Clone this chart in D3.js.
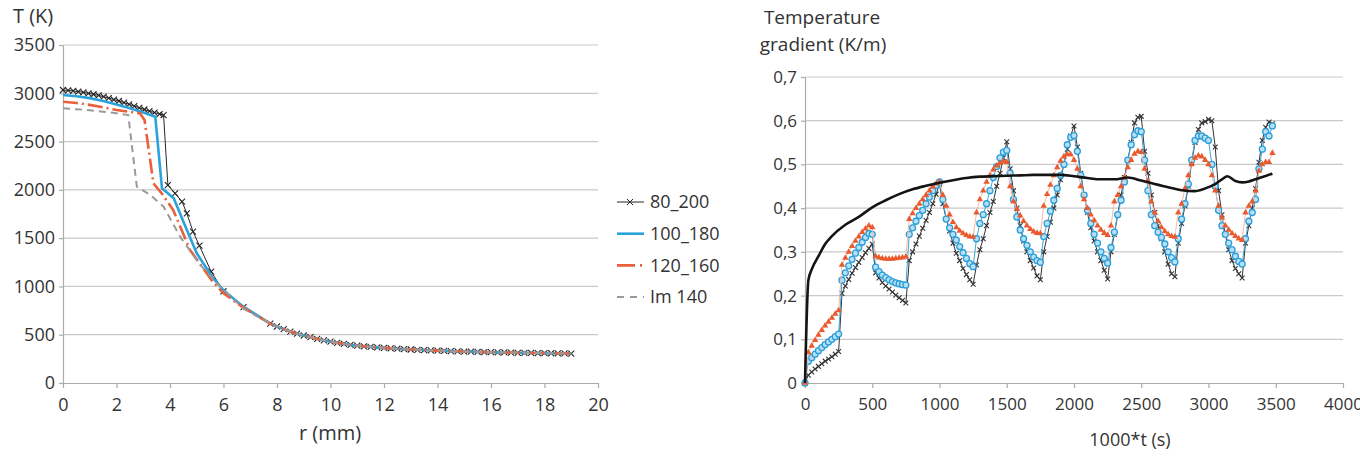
<!DOCTYPE html>
<html>
<head>
<meta charset="utf-8">
<script src="https://cdn.jsdelivr.net/npm/d3@7"></script>
<style>
    body { margin: 0; background: #fff; }
    text { font-family: "Open Sans", sans-serif; fill: #333; }
</style>
</head>
<body>
<svg id="chart" width="1360" height="465"></svg>
<script>
// ---------- left chart: temperature profile T(r) ----------
const rTicks = [0, 2, 4, 6, 8, 10, 12, 14, 16, 18, 20];
const tempTicks = [0, 500, 1000, 1500, 2000, 2500, 3000, 3500];
const profileNames = ['80_200', '100_180', '120_160', 'Im 140'];

// shared far-field tail (all cases converge here)
const rTail = [7.75, 8, 8.25, 8.5, 8.75, 9, 9.25, 9.5, 9.75, 10, 10.25, 10.5, 10.75, 11, 11.25, 11.5, 11.75, 12,
    12.25, 12.5, 12.75, 13, 13.25, 13.5, 13.75, 14, 14.25, 14.5, 14.75, 15, 15.25, 15.5, 15.75, 16, 16.25, 16.5,
    16.75, 17, 17.25, 17.5, 17.75, 18, 18.25, 18.5, 18.75, 19];
const tTail = [615, 585, 558, 533, 511, 492, 474, 458, 442, 428, 416, 405, 395, 387, 380, 374, 369, 364,
    359, 355, 351, 347, 344, 341, 338, 335, 333, 330, 328, 326, 324, 322, 320, 319, 317, 316,
    315, 313, 312, 311, 310, 309, 308, 307, 306, 305];

const r80 = [0, 0.19, 0.38, 0.57, 0.76, 0.95, 1.14, 1.33, 1.52, 1.71, 1.9, 2.09, 2.28, 2.47, 2.66, 2.85, 3.04, 3.23,
    3.42, 3.61, 3.76, 3.92, 4.19, 4.45, 4.63, 4.86, 5.1, 5.54, 6.0, 6.75];
const t80 = [3034, 3030, 3025, 3018, 3010, 3000, 2990, 2978, 2965, 2950, 2935, 2920, 2903, 2886, 2868, 2850, 2832, 2815,
    2800, 2785, 2775, 2050, 1964, 1877, 1757, 1567, 1422, 1153, 950, 785];

const r100 = [0, 0.5, 1, 1.5, 2, 2.5, 3, 3.45, 3.7, 4.14, 4.63, 5.0, 5.57, 6.0, 6.74];
const t100 = [2982, 2970, 2950, 2920, 2885, 2845, 2800, 2758, 2016, 1912, 1584, 1343, 1100, 960, 790];

const r120 = [0, 0.5, 1, 1.5, 2, 2.5, 2.88, 3.05, 3.38, 3.7, 4.12, 4.75, 5.6, 6.0, 6.74];
const t120 = [2913, 2900, 2880, 2855, 2827, 2808, 2793, 2720, 2068, 1960, 1791, 1377, 1049, 930, 780];

const r140 = [0, 0.5, 1, 1.5, 2, 2.44, 2.6, 2.76, 3.26, 3.76, 4.38, 5.13, 5.76, 6.74];
const t140 = [2844, 2835, 2825, 2810, 2793, 2775, 2400, 2033, 1947, 1826, 1515, 1222, 1032, 770];

// ---------- right chart: temperature gradient vs time ----------
const timeTicks = [0, 500, 1000, 1500, 2000, 2500, 3000, 3500, 4000];
const gradTicks = [0, 0.1, 0.2, 0.3, 0.4, 0.5, 0.6, 0.7];
const sampleTimes = d3.range(0, 3500, 25);   // one sample every 25 (1000*t)

const grad80 = [
    0, .018, .025, .032, .038, .044, .05, .055, .06, .066,
    .072, .205, .222, .237, .251, .264, .276, .287, .298, .308,
    .318, .252, .24, .23, .222, .215, .208, .201, .195, .189,
    .183, .28, .3, .318, .336, .354, .372, .39, .41, .432,
    .455, .41, .375, .348, .32, .297, .28, .262, .248, .236,
    .226, .27, .305, .33, .36, .39, .415, .45, .48, .515,
    .552, .49, .44, .4, .36, .325, .3, .28, .263, .245,
    .236, .3, .335, .368, .4, .43, .465, .5, .535, .565,
    .588, .54, .48, .43, .39, .355, .325, .3, .28, .258,
    .238, .3, .34, .385, .43, .47, .51, .55, .595, .608,
    .61, .53, .48, .43, .39, .36, .33, .3, .272, .25,
    .243, .32, .365, .405, .45, .505, .55, .58, .595, .598,
    .603, .6, .54, .44, .385, .34, .305, .28, .262, .25,
    .24, .32, .36, .4, .445, .505, .555, .585, .597, .593
];
const grad100 = [
    0, .05, .058, .066, .074, .081, .088, .094, .1, .106,
    .112, .235, .252, .268, .283, .297, .31, .322, .333, .342,
    .34, .265, .255, .247, .241, .236, .232, .229, .227, .225,
    .224, .34, .355, .37, .383, .395, .41, .425, .44, .452,
    .46, .42, .375, .355, .34, .327, .312, .298, .285, .273,
    .266, .33, .365, .385, .41, .44, .47, .495, .515, .528,
    .532, .48, .42, .38, .35, .33, .315, .3, .288, .28,
    .276, .335, .365, .393, .418, .445, .475, .5, .545, .562,
    .566, .53, .475, .43, .395, .365, .34, .32, .3, .285,
    .274, .31, .345, .385, .418, .46, .51, .545, .568, .577,
    .575, .51, .44, .385, .36, .345, .333, .318, .3, .287,
    .277, .33, .375, .41, .455, .51, .555, .565, .565, .56,
    .555, .5, .45, .395, .36, .34, .32, .305, .29, .278,
    .272, .33, .37, .39, .42, .49, .535, .575, .565, .588
];
const grad120 = [
    0, .07, .085, .098, .11, .121, .131, .14, .149, .158,
    .166, .27, .286, .3, .313, .325, .335, .345, .353, .36,
    .356, .29, .287, .285, .284, .284, .284, .285, .286, .287,
    .289, .375, .388, .4, .41, .42, .43, .44, .449, .456,
    .46, .43, .405, .385, .368, .356, .348, .342, .338, .335,
    .334, .39, .42, .44, .46, .475, .488, .497, .503, .507,
    .505, .45, .415, .398, .383, .37, .36, .352, .346, .343,
    .342, .405, .432, .453, .475, .493, .508, .518, .523, .523,
    .51, .49, .45, .42, .4, .385, .372, .36, .35, .343,
    .338, .36, .415, .43, .45, .47, .493, .51, .524, .53,
    .528, .49, .462, .415, .39, .37, .356, .347, .34, .336,
    .334, .39, .41, .445, .475, .5, .515, .52, .518, .51,
    .5, .475, .44, .405, .378, .36, .35, .342, .336, .33,
    .327, .39, .405, .415, .44, .485, .5, .505, .505, .526
];
// steady case, smooth line without markers
const imTimes = [0, 25, 50, 100, 150, 200, 300, 400, 500, 600, 700, 800, 900, 1000, 1100, 1200, 1300, 1400, 1500,
    1600, 1700, 1800, 1900, 2000, 2100, 2200, 2300, 2400, 2500, 2600, 2700, 2800, 2900, 3000, 3050, 3100, 3140,
    3200, 3250, 3300, 3350, 3400, 3475];
const imGrad = [0, 0.235, 0.26, 0.29, 0.318, 0.336, 0.362, 0.38, 0.402, 0.418, 0.432, 0.443, 0.451, 0.458, 0.464,
    0.469, 0.472, 0.473, 0.474, 0.475, 0.476, 0.476, 0.476, 0.473, 0.469, 0.466, 0.466, 0.47, 0.463, 0.455, 0.448,
    0.441, 0.439, 0.448, 0.455, 0.466, 0.473, 0.462, 0.459, 0.461, 0.466, 0.471, 0.479];

const svg = d3.select('#chart');
const gridColor = '#c9c9c9';
const axisColor = '#ababab';

function zip(xs, ys) {
    return xs.map((x, i) => [x, ys[i]]);
}

function xMarker(g, pts, x, y, s, color) {
    g.selectAll(null)
        .data(pts)
        .enter()
        .append('path')
        .attr('d', `M${-s},${-s}L${s},${s}M${-s},${s}L${s},${-s}`)
        .attr('transform', d => `translate(${x(d[0])},${y(d[1])})`)
        .attr('stroke', color)
        .attr('stroke-width', 1.1)
        .attr('fill', 'none');
}

function drawFrame(x, y, xVals, yVals, yFmt, fontSize, labelGap) {
    const g = svg.append('g');
    const [xa, xb] = x.range();
    const y0 = y.range()[0];

    // horizontal gridlines
    g.selectAll('.grid')
        .data(yVals.filter(v => v !== 0))
        .enter()
        .append('line')
        .attr('x1', xa).attr('x2', xb)
        .attr('y1', d => y(d)).attr('y2', d => y(d))
        .attr('stroke', gridColor)
        .attr('stroke-width', 1.2);

    // axes
    const xAxis = g.append('g')
        .attr('transform', `translate(0,${y0})`)
        .call(d3.axisBottom(x).tickValues(xVals).tickFormat(d => String(d))
            .tickSize(5).tickPadding(labelGap).tickSizeOuter(0));
    const yAxis = g.append('g')
        .attr('transform', `translate(${xa},0)`)
        .call(d3.axisLeft(y).tickValues(yVals).tickFormat(yFmt).tickSize(4).tickPadding(4).tickSizeOuter(0));

    [xAxis, yAxis].forEach(a => {
        a.selectAll('path, line').attr('stroke', axisColor).attr('stroke-width', 1.2);
        a.selectAll('text')
            .style('font-family', '"Open Sans", sans-serif')
            .style('font-size', fontSize + 'px')
            .attr('fill', '#333');
    });
    return g;
}

// ===== left chart =====
const xL = d3.scaleLinear().domain([0, 20]).range([63, 598]);
const yL = d3.scaleLinear().domain([0, 3500]).range([383, 45]);
drawFrame(xL, yL, rTicks, tempTicks, d => d, 18, 10);

const lineL = d3.line().x(d => xL(d[0])).y(d => yL(d[1]));
const tailPts = zip(rTail, tTail);
const pts80 = zip(r80, t80).concat(tailPts);
const pts100 = zip(r100, t100).concat(tailPts);
const pts120 = zip(r120, t120).concat(tailPts);
const pts140 = zip(r140, t140).concat(tailPts);

const leftStyles = [
    { color: '#262626', width: 1, dash: null, legendDash: null },
    { color: '#2aa3dc', width: 2.6, dash: null, legendDash: null },
    { color: '#e9603a', width: 2.6, dash: '15,4,2,4', legendDash: '18,5,2,10' },
    { color: '#9a9a9a', width: 2, dash: '7,5', legendDash: '7,6' }
];
const leftSeries = [pts80, pts100, pts120, pts140];
const gL = svg.append('g');

leftSeries.forEach((pts, i) => {
    const st = leftStyles[i];
    gL.append('path')
        .datum(pts)
        .attr('d', lineL)
        .attr('fill', 'none')
        .attr('stroke', st.color)
        .attr('stroke-width', st.width)
        .attr('stroke-dasharray', st.dash);
    if (i === 0) xMarker(gL, pts, xL, yL, 3, '#262626');
});

// legend
const legend = svg.append('g');
profileNames.forEach((name, i) => {
    const st = leftStyles[i];
    const ly = 202 + i * 31.7;
    legend.append('line')
        .attr('x1', 617).attr('x2', 644)
        .attr('y1', ly).attr('y2', ly)
        .attr('stroke', st.color)
        .attr('stroke-width', st.width)
        .attr('stroke-dasharray', st.legendDash);
    if (i === 0) {
        legend.append('path')
            .attr('d', 'M-3,-3L3,3M-3,3L3,-3')
            .attr('transform', `translate(630,${ly})`)
            .attr('stroke', st.color)
            .attr('fill', 'none');
    }
    legend.append('text')
        .attr('x', 650)
        .attr('y', ly)
        .attr('dy', '0.35em')
        .style('font-size', '18px')
        .text(name);
});

svg.append('text').attr('x', 13).attr('y', 23).style('font-size', '20px').text('T (K)');
svg.append('text').attr('x', 330).attr('y', 440).attr('text-anchor', 'middle').style('font-size', '20px').text('r (mm)');

// ===== right chart =====
const decimalComma = d3.formatLocale({ decimal: ',', thousands: '.', grouping: [3], currency: ['', ''] }).format('.1f');
const xR = d3.scaleLinear().domain([0, 4000]).range([805, 1343]);
const yR = d3.scaleLinear().domain([0, 0.7]).range([383, 77]);
drawFrame(xR, yR, timeTicks, gradTicks, d => d === 0 ? '0' : decimalComma(d), 17, 10);

const lineR = d3.line().x(d => xR(d[0])).y(d => yR(d[1]));
const gR = svg.append('g');

// 80_200 : thin black line, x markers
const p80 = zip(sampleTimes, grad80);
gR.append('path').datum(p80).attr('d', lineR)
    .attr('fill', 'none').attr('stroke', '#333').attr('stroke-width', 1);
xMarker(gR, p80, xR, yR, 2.4, '#333');

// 100_180 : blue line, open circles
const p100 = zip(sampleTimes, grad100);
gR.append('path').datum(p100).attr('d', lineR)
    .attr('fill', 'none').attr('stroke', '#3ea6dc').attr('stroke-width', 1);
gR.selectAll('.c100')
    .data(p100)
    .enter()
    .append('circle')
    .attr('cx', d => xR(d[0]))
    .attr('cy', d => yR(d[1]))
    .attr('r', 3)
    .attr('fill', '#b7e0f5')
    .attr('stroke', '#2a9ed8')
    .attr('stroke-width', 1.3);

// 120_160 : light orange line, filled triangles
const p120 = zip(sampleTimes, grad120);
gR.append('path').datum(p120).attr('d', lineR)
    .attr('fill', 'none').attr('stroke', '#f5b9a2').attr('stroke-width', 1);
gR.selectAll('.t120')
    .data(p120)
    .enter()
    .append('path')
    .attr('d', d3.symbol(d3.symbolTriangle).size(18))
    .attr('transform', d => `translate(${xR(d[0])},${yR(d[1])})`)
    .attr('fill', '#ea5a2e');

// Im 140 : thick black smooth line
gR.append('path').datum(zip(imTimes, imGrad))
    .attr('d', lineR.curve(d3.curveMonotoneX))
    .attr('fill', 'none').attr('stroke', '#141414').attr('stroke-width', 2.6);

svg.append('text').attr('x', 822).attr('y', 24).attr('text-anchor', 'middle').style('font-size', '19px').text('Temperature');
svg.append('text').attr('x', 823).attr('y', 51).attr('text-anchor', 'middle').style('font-size', '19px').text('gradient (K/m)');
svg.append('text').attr('x', 1130).attr('y', 446).attr('text-anchor', 'middle').style('font-size', '18px').text('1000*t (s)');
</script>
</body>
</html>
